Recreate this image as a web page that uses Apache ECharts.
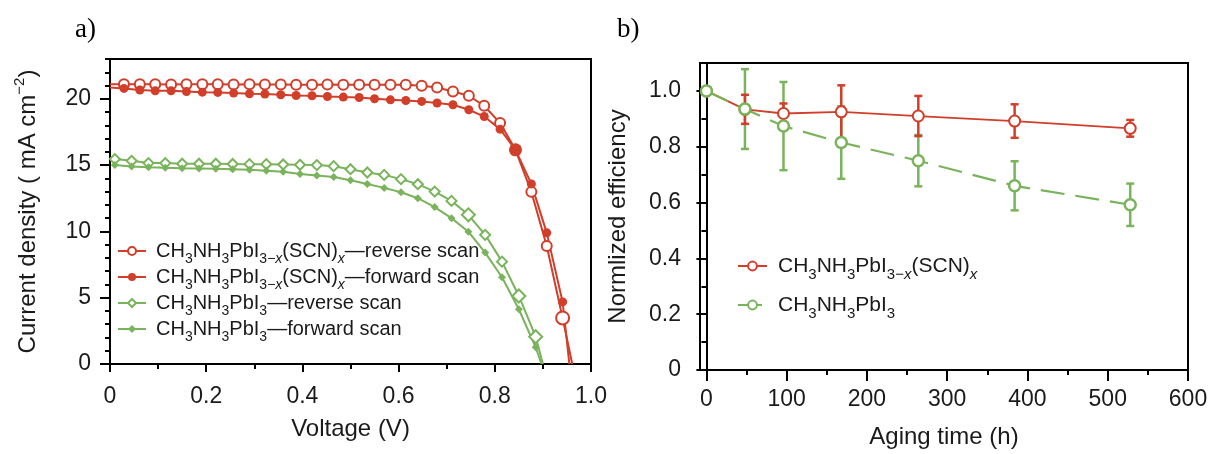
<!DOCTYPE html>
<html><head><meta charset="utf-8">
<script src="https://cdn.jsdelivr.net/npm/echarts@6/dist/echarts.min.js"></script>
<style>html,body{margin:0;padding:0;background:#fff}#c{width:1213px;height:454px}</style>
</head><body><div id="c"></div>
<script>
// ---------- Panel a) J-V data ----------
const redScanV = [0.029, 0.062, 0.094, 0.127, 0.159, 0.192, 0.224, 0.257, 0.290, 0.322, 0.355, 0.387, 0.420, 0.452, 0.485, 0.518, 0.550, 0.583, 0.615, 0.648, 0.680, 0.713, 0.746, 0.778, 0.811, 0.843, 0.876, 0.908, 0.941];
const redRevJ = [21.1, 21.1, 21.1, 21.08, 21.1, 21.1, 21.1, 21.08, 21.1, 21.08, 21.08, 21.06, 21.06, 21.08, 21.06, 21.06, 21.06, 21.06, 21.06, 20.98, 20.85, 20.55, 20.23, 19.47, 18.17, 16.15, 12.98, 8.9, 3.47];
const redFwdJ = [20.78, 20.66, 20.6, 20.6, 20.55, 20.5, 20.48, 20.43, 20.38, 20.36, 20.3, 20.25, 20.23, 20.17, 20.13, 20.1, 20.0, 19.92, 19.87, 19.8, 19.68, 19.55, 19.17, 18.66, 17.71, 16.15, 13.58, 9.89, 4.68];
const redRevJsc = 21.1, redFwdJsc = 20.85;
const redRevVoc = 0.961, redFwdVoc = 0.955;

const greenScanV = [0.010, 0.045, 0.080, 0.115, 0.150, 0.185, 0.220, 0.255, 0.290, 0.325, 0.360, 0.395, 0.430, 0.465, 0.500, 0.535, 0.570, 0.605, 0.640, 0.675, 0.710, 0.745, 0.780, 0.815, 0.850, 0.885];
const greenRevJ = [15.45, 15.32, 15.15, 15.15, 15.1, 15.1, 15.1, 15.08, 15.07, 15.07, 15.05, 15.02, 15.0, 14.92, 14.69, 14.44, 14.26, 13.94, 13.56, 13.0, 12.3, 11.25, 9.74, 7.72, 5.13, 2.06];
const greenFwdJ = [15.0, 14.9, 14.83, 14.8, 14.77, 14.75, 14.72, 14.69, 14.64, 14.58, 14.5, 14.33, 14.22, 14.1, 13.85, 13.57, 13.28, 12.95, 12.5, 11.83, 11.0, 9.98, 8.4, 6.54, 4.13, 1.26];
const greenRevVoc = 0.900, greenFwdVoc = 0.897;

const voltTicks = [0, 0.2, 0.4, 0.6, 0.8, 1.0];
const currentTicks = [0, 5, 10, 15, 20];
const currentMinorTicks = [1, 2, 3, 4, 6, 7, 8, 9, 11, 12, 13, 14, 16, 17, 18, 19, 21, 22, 23];

// ---------- Panel b) stability data ----------
const agingTime = [0, 48, 96, 168, 264, 384, 528];
const scnEff = [1.0, 0.934, 0.919, 0.925, 0.91, 0.892, 0.866];
const scnErr = [0, 0.052, 0.036, 0.095, 0.072, 0.06, 0.03];
const mapiEff = [1.0, 0.935, 0.874, 0.815, 0.75, 0.66, 0.592];
const mapiErr = [0, 0.143, 0.158, 0.13, 0.092, 0.088, 0.076];
const timeTicks = [0, 100, 200, 300, 400, 500, 600];
const timeMinorTicks = [50, 150, 250, 350, 450, 550];
const effTicks = [0, 0.2, 0.4, 0.6, 0.8, 1.0];
const effMinorTicks = [0.1, 0.3, 0.5, 0.7, 0.9];

const NAMES = {
  l1: 'CH3NH3PbI3−x(SCN)x—reverse scan',
  l2: 'CH3NH3PbI3−x(SCN)x—forward scan',
  l3: 'CH3NH3PbI3—reverse scan',
  l4: 'CH3NH3PbI3—forward scan',
  r1: 'CH3NH3PbI3−x(SCN)x',
  r2: 'CH3NH3PbI3'
};
const RICH = {};
RICH[NAMES.l1] = '{g| }CH{s|3}NH{s|3}PbI{s|3−}{si|x}(SCN){si|x}—reverse scan';
RICH[NAMES.l2] = '{g| }CH{s|3}NH{s|3}PbI{s|3−}{si|x}(SCN){si|x}—forward scan';
RICH[NAMES.l3] = '{g| }CH{s|3}NH{s|3}PbI{s|3}—reverse scan';
RICH[NAMES.l4] = '{g| }CH{s|3}NH{s|3}PbI{s|3}—forward scan';
RICH[NAMES.r1] = '{g| }CH{s|3}NH{s|3}PbI{s|3−}{si|x}(SCN){si|x}';
RICH[NAMES.r2] = '{g| }CH{s|3}NH{s|3}PbI{s|3}';

// ---------- styling ----------
const FONT = '"Liberation Sans", Arial, Helvetica, sans-serif';
const RED = '#d13e2a';
const GREEN = '#79b35b';
const INK = '#1a1a1a';

function ivData(vs, js, jsc, voc, big, bigSize) {
  const out = [];
  if (jsc !== null) out.push({ value: [0, jsc], symbol: 'none' });
  vs.forEach((v, i) => {
    const it = { value: [v, js[i]] };
    if (big.indexOf(i) >= 0) it.symbolSize = bigSize;
    out.push(it);
  });
  out.push({ value: [voc, 0], symbol: 'none' });
  return out;
}

function errorSeries(vals, errs, color, z) {
  const data = [];
  agingTime.forEach((t, i) => { if (errs[i] > 0) data.push([t, vals[i] - errs[i], vals[i] + errs[i]]); });
  return {
    type: 'custom', xAxisIndex: 1, yAxisIndex: 2, z: z, silent: true,
    data: data, encode: { x: 0, y: [1, 2] },
    renderItem: function (params, api) {
      const x = api.value(0);
      const lo = api.coord([x, api.value(1)]);
      const hi = api.coord([x, api.value(2)]);
      const w = 4;
      const st = { stroke: color, lineWidth: 2.5 };
      return { type: 'group', children: [
        { type: 'line', shape: { x1: lo[0], y1: lo[1], x2: hi[0], y2: hi[1] }, style: st },
        { type: 'line', shape: { x1: lo[0] - w, y1: lo[1], x2: lo[0] + w, y2: lo[1] }, style: st },
        { type: 'line', shape: { x1: hi[0] - w, y1: hi[1], x2: hi[0] + w, y2: hi[1] }, style: st }
      ] };
    }
  };
}

const axisLineStyle = { show: true, lineStyle: { color: '#000', width: 2 } };
const tickStyle = { color: '#000', width: 2 };
const labelStyle = { fontFamily: FONT, fontSize: 23, color: INK };
const nameStyle = { fontFamily: FONT, fontSize: 24, color: INK };
const fmt1 = v => (Math.abs(v) < 1e-9 ? '0' : v.toFixed(1));

const chart = echarts.init(document.getElementById('c'));
chart.setOption({
  animation: false,
  backgroundColor: '#fff',
  textStyle: { fontFamily: FONT },
  grid: [
    { left: 110, top: 59, width: 481, height: 305, show: true, borderColor: '#000', borderWidth: 2, backgroundColor: 'transparent' },
    { left: 700, top: 63, width: 488, height: 308, show: true, borderColor: '#000', borderWidth: 2, backgroundColor: 'transparent' }
  ],
  xAxis: [
    { gridIndex: 0, type: 'value', position: 'bottom', min: 0, max: 1, interval: 0.2,
      axisLine: axisLineStyle, splitLine: { show: false },
      axisTick: { show: true, length: 8, lineStyle: tickStyle },
      minorTick: { show: true, splitNumber: 2, length: 5, lineStyle: tickStyle },
      axisLabel: Object.assign({ margin: 21, formatter: fmt1 }, labelStyle),
      name: 'Voltage (V)', nameLocation: 'middle', nameGap: 53, nameTextStyle: nameStyle },
    { gridIndex: 1, type: 'value', position: 'bottom', min: -8, max: 600,
      axisLine: axisLineStyle, splitLine: { show: false },
      axisTick: { show: true, length: 11, lineStyle: tickStyle, customValues: timeTicks },
      axisLabel: Object.assign({ margin: 18, customValues: timeTicks }, labelStyle),
      name: 'Aging time (h)', nameLocation: 'middle', nameGap: 55, nameTextStyle: nameStyle },
    { gridIndex: 1, type: 'value', position: 'bottom', min: -8, max: 600,
      axisLine: { show: false }, splitLine: { show: false },
      axisTick: { show: true, length: 5, lineStyle: tickStyle, customValues: timeMinorTicks },
      axisLabel: { show: false } }
  ],
  yAxis: [
    { gridIndex: 0, type: 'value', position: 'left', min: 0, max: 23,
      axisLine: axisLineStyle, splitLine: { show: false },
      axisTick: { show: true, length: 10, lineStyle: tickStyle, customValues: currentTicks },
      axisLabel: Object.assign({ margin: 19, customValues: currentTicks }, labelStyle),
      name: 'Current density ( mA cm{sup|−2})', nameLocation: 'middle', nameGap: 70,
      nameTextStyle: Object.assign({ lineHeight: 24, rich: { sup: { fontFamily: FONT, fontSize: 15, color: INK, lineHeight: 24, padding: [0, 0, 16, 0] } } }, nameStyle) },
    { gridIndex: 0, type: 'value', position: 'left', min: 0, max: 23,
      axisLine: { show: false }, splitLine: { show: false },
      axisTick: { show: true, length: 5, lineStyle: tickStyle, customValues: currentMinorTicks },
      axisLabel: { show: false } },
    { gridIndex: 1, type: 'value', position: 'left', min: 0, max: 1.1,
      axisLine: axisLineStyle, splitLine: { show: false },
      axisTick: { show: true, length: 10, lineStyle: tickStyle, customValues: effTicks },
      axisLabel: Object.assign({ margin: 19, customValues: effTicks, formatter: fmt1 }, labelStyle),
      name: 'Normlized efficiency', nameLocation: 'middle', nameGap: 70, nameTextStyle: nameStyle },
    { gridIndex: 1, type: 'value', position: 'left', min: 0, max: 1.1,
      axisLine: { show: false }, splitLine: { show: false },
      axisTick: { show: true, length: 5, lineStyle: tickStyle, customValues: effMinorTicks },
      axisLabel: { show: false } }
  ],
  legend: [
    { orient: 'vertical', left: 117, top: 236, padding: 0, itemGap: -4, itemWidth: 28, itemHeight: 10,
      selectedMode: false, data: [NAMES.l1, NAMES.l2, NAMES.l3, NAMES.l4],
      formatter: n => RICH[n],
      textStyle: { fontFamily: FONT, fontSize: 20, color: INK, lineHeight: 20,
        rich: {
          g: { width: 5, lineHeight: 20 },
          s: { fontFamily: FONT, fontSize: 14, color: INK, lineHeight: 20, padding: [16, 0, 0, 0] },
          si: { fontFamily: FONT, fontSize: 14, fontStyle: 'italic', color: INK, lineHeight: 20, padding: [16, 0, 0, 0] }
        } } },
    { orient: 'vertical', left: 737, top: 250, padding: 0, itemGap: 7, itemWidth: 29, itemHeight: 11,
      selectedMode: false, data: [NAMES.r1, NAMES.r2],
      formatter: n => RICH[n],
      textStyle: { fontFamily: FONT, fontSize: 21, color: INK, lineHeight: 22,
        rich: {
          g: { width: 6, lineHeight: 22 },
          s: { fontFamily: FONT, fontSize: 15, color: INK, lineHeight: 22, padding: [17, 0, 0, 0] },
          si: { fontFamily: FONT, fontSize: 15, fontStyle: 'italic', color: INK, lineHeight: 22, padding: [17, 0, 0, 0] }
        } } }
  ],
  graphic: [
    { type: 'text', left: 75, top: 16, style: { text: 'a)', font: '27px "Liberation Serif", "Times New Roman", serif', fill: '#000' } },
    { type: 'text', left: 617, top: 16, style: { text: 'b)', font: '27px "Liberation Serif", "Times New Roman", serif', fill: '#000' } }
  ],
  series: [
    { name: NAMES.l3, type: 'line', xAxisIndex: 0, yAxisIndex: 0, z: 3,
      data: ivData(greenScanV, greenRevJ, null, greenRevVoc, [21, 24, 25], 13),
      symbol: 'diamond', symbolSize: 10,
      itemStyle: { color: '#fff', borderColor: GREEN, borderWidth: 2 },
      lineStyle: { color: GREEN, width: 2 }, emphasis: { disabled: true } },
    { name: NAMES.l4, type: 'line', xAxisIndex: 0, yAxisIndex: 0, z: 3,
      data: ivData(greenScanV, greenFwdJ, null, greenFwdVoc, [], 8),
      symbol: 'diamond', symbolSize: 8,
      itemStyle: { color: GREEN, borderColor: GREEN, borderWidth: 0 },
      lineStyle: { color: GREEN, width: 2 }, emphasis: { disabled: true } },
    { name: NAMES.l1, type: 'line', xAxisIndex: 0, yAxisIndex: 0, z: 4,
      data: ivData(redScanV, redRevJ, redRevJsc, redRevVoc, [28], 13),
      symbol: 'circle', symbolSize: 10,
      itemStyle: { color: '#fff', borderColor: RED, borderWidth: 2 },
      lineStyle: { color: RED, width: 2 }, emphasis: { disabled: true } },
    { name: NAMES.l2, type: 'line', xAxisIndex: 0, yAxisIndex: 0, z: 4,
      data: ivData(redScanV, redFwdJ, redFwdJsc, redFwdVoc, [25], 13),
      symbol: 'circle', symbolSize: 9,
      itemStyle: { color: RED, borderColor: RED, borderWidth: 0 },
      lineStyle: { color: RED, width: 2 }, emphasis: { disabled: true } },

    errorSeries(mapiEff, mapiErr, GREEN, 1),
    errorSeries(scnEff, scnErr, RED, 1),
    { name: NAMES.r1, type: 'line', xAxisIndex: 1, yAxisIndex: 2, z: 3,
      data: agingTime.map((t, i) => [t, scnEff[i]]),
      symbol: 'circle', symbolSize: 11,
      itemStyle: { color: '#fff', borderColor: RED, borderWidth: 2 },
      lineStyle: { color: RED, width: 1.8 }, emphasis: { disabled: true } },
    { name: NAMES.r2, type: 'line', xAxisIndex: 1, yAxisIndex: 2, z: 4,
      data: agingTime.map((t, i) => [t, mapiEff[i]]),
      symbol: 'circle', symbolSize: 11,
      itemStyle: { color: '#fff', borderColor: GREEN, borderWidth: 2.5 },
      lineStyle: { color: GREEN, width: 2.2, type: [24, 11] }, emphasis: { disabled: true } }
  ]
});
</script>
</body></html>
